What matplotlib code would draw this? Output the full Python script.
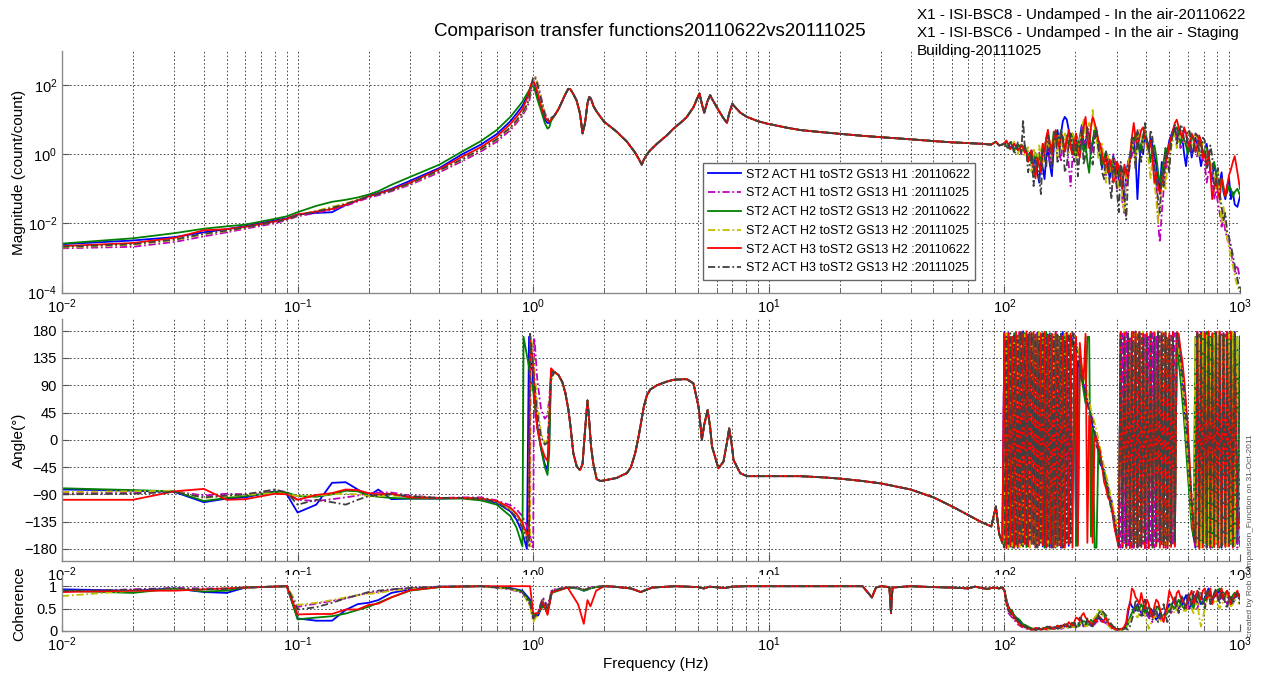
import matplotlib
matplotlib.use("Agg")
import matplotlib.pyplot as plt
from matplotlib.lines import Line2D
from matplotlib.ticker import LogFormatterMathtext, FixedLocator, NullLocator, LogLocator

plt.rcParams.update({
    "font.family": ["Liberation Sans", "DejaVu Sans"],
    "mathtext.fontset": "custom",
    "mathtext.rm": "Liberation Sans",
    "mathtext.it": "Liberation Sans:italic",
    "mathtext.bf": "Liberation Sans:bold",
    "mathtext.default": "regular",
})

# ---------------------------------------------------------------- labels
title = "Comparison transfer functions20110622vs20111025"
info_lines = ["X1 - ISI-BSC8 - Undamped - In the air-20110622",
              "X1 - ISI-BSC6 - Undamped - In the air - Staging",
              "Building-20111025"]
series_labels = ["ST2 ACT H1 toST2 GS13 H1 :20110622",
                 "ST2 ACT H1 toST2 GS13 H1 :20111025",
                 "ST2 ACT H2 toST2 GS13 H2 :20110622",
                 "ST2 ACT H2 toST2 GS13 H2 :20111025",
                 "ST2 ACT H3 toST2 GS13 H2 :20110622",
                 "ST2 ACT H3 toST2 GS13 H2 :20111025"]
credit = "created by Rob Comparison_Function on 31-Oct-2011"

# ---------------------------------------------------------------- frequency grids (Hz)
f_low = [0.01, 0.02, 0.03, 0.04, 0.05, 0.06, 0.08, 0.09, 0.10, 0.12, 0.14, 0.16, 0.18,
         0.20, 0.22, 0.25, 0.30, 0.40, 0.50, 0.60, 0.70, 0.80, 0.85, 0.90, 0.91, 0.94,
         0.96, 0.97, 0.98, 0.99, 1.00, 1.01, 1.02, 1.04, 1.08, 1.12, 1.15, 1.17, 1.19]
f_mid = [1.23, 1.28, 1.33, 1.37, 1.41, 1.44, 1.48, 1.53, 1.58, 1.62,
         1.66, 1.70, 1.73, 1.76, 1.80, 1.86, 1.93, 2.00, 2.13, 2.26,
         2.40, 2.50, 2.60, 2.71, 2.80, 2.89, 2.95, 3.04, 3.14, 3.35,
         3.69, 3.94, 4.35, 4.49, 4.79, 5.03, 5.08, 5.20, 5.32, 5.50,
         5.64, 5.74, 6.11, 6.42, 6.64, 6.79, 7.00, 7.08, 7.56, 8.08,
         9.00, 9.81, 12.0, 13.6, 17.0, 20.0, 25.0, 30.0, 40.0, 50.0,
         60.0, 70.0, 80.0, 88.0, 92.0, 95.0, 98.0]
f_high = [100, 102, 104, 106, 108, 110, 112, 114, 116, 118,
          120, 122, 124, 126, 128, 130.5, 133, 135.5, 138, 140.5,
          143, 145.5, 148, 150.5, 153, 156, 159, 162, 165, 168,
          171, 174, 177, 180.5, 184, 187.5, 191, 194.5, 198, 201.5,
          205, 209, 213, 217, 221, 225, 229, 233, 237, 241.5,
          246, 250.5, 255, 260, 265, 270, 275, 280, 285, 290,
          295, 300.5, 306, 311.5, 317, 323, 329, 335, 341, 347.5,
          354, 360.5, 367, 374, 381, 388, 395, 402.5, 410, 417.5,
          425, 433, 441, 449, 457, 465.5, 474, 483, 492, 501,
          510, 519.5, 529, 539, 549, 559, 569, 579.5, 590, 601,
          612, 623.5, 635, 647, 659, 671, 683, 696, 709, 722,
          735, 748.5, 762, 776.5, 791, 805.5, 820, 835.5, 851, 866.5,
          882, 898.5, 915, 932.5, 950, 975, 1000]
f_coh_low = [0.01, 0.02, 0.03, 0.04, 0.05, 0.06, 0.09, 0.10, 0.12, 0.14, 0.16, 0.18, 0.20,
             0.22, 0.25, 0.30, 0.40, 0.60, 0.80, 0.90, 0.97, 1.00, 1.05, 1.10, 1.15, 1.20,
             1.40, 1.55, 1.64, 1.70, 1.75, 1.85, 2.0]
f_coh_mid = [2.2, 2.6, 2.86, 3.2, 4.0, 5.0, 5.3, 5.6, 6.5, 7.0, 8.0, 10, 15, 20, 25, 27.4,
             28.5, 30, 32.5, 33, 33.5, 40, 50, 60, 70, 75, 80, 85, 90, 95, 98]

# ---------------------------------------------------------------- magnitude (count/count)
mag_low_h1_a = [2.5e-3, 3.2e-3, 4.0e-3, 5.5e-3, 6.8e-3, 8.3e-3, 1.22e-2, 1.4e-2, 1.8e-2, 2.0e-2,
                2.1e-2, 3.4e-2, 4.6e-2, 6.2e-2, 7.5e-2, 0.1, 0.17, 0.4, 1.0, 1.9, 3.8, 9.0, 15,
                25, 29, 45, 65, 80, 100, 115, 120, 110, 90, 55, 22, 10, 8, 8, 10]
mag_low_h1_b = [1.9e-3, 2.1e-3, 2.9e-3, 4.2e-3, 5.5e-3, 7.0e-3, 1.0e-2, 1.25e-2, 1.6e-2, 2.0e-2,
                2.5e-2, 3.2e-2, 4.3e-2, 5.5e-2, 6.5e-2, 0.085, 0.13, 0.3, 0.63, 1.2, 2.3, 5.0, 8,
                13, 15, 22, 32, 45, 65, 90, 120, 160, 170, 120, 45, 16, 11, 10, 11]
mag_low_h2_a = [2.6e-3, 3.7e-3, 5.2e-3, 7.0e-3, 8.2e-3, 9.2e-3, 1.35e-2, 1.6e-2, 2.1e-2, 3.2e-2,
                4.2e-2, 4.8e-2, 5.6e-2, 6.8e-2, 8.5e-2, 0.13, 0.22, 0.5, 1.2, 2.4, 5.0, 12, 20,
                33, 38, 55, 70, 80, 90, 95, 90, 80, 65, 40, 18, 8, 5.5, 6, 9]
mag_low_h2_b = [2.0e-3, 2.4e-3, 3.3e-3, 4.8e-3, 6.0e-3, 7.5e-3, 1.1e-2, 1.3e-2, 1.7e-2, 2.3e-2,
                3.0e-2, 3.8e-2, 4.8e-2, 6.0e-2, 7.0e-2, 0.09, 0.14, 0.33, 0.7, 1.35, 2.6, 5.8, 9,
                15, 17, 25, 38, 55, 80, 110, 140, 175, 180, 120, 40, 15, 10.5, 10, 11]
mag_low_h3_a = [2.2e-3, 2.7e-3, 3.8e-3, 6.3e-3, 6.8e-3, 7.9e-3, 1.14e-2, 1.35e-2, 1.8e-2, 2.2e-2,
                2.6e-2, 3.5e-2, 4.6e-2, 6.0e-2, 7.2e-2, 0.095, 0.15, 0.37, 0.85, 1.6, 3.2, 7.5, 12,
                20, 24, 40, 60, 80, 105, 120, 125, 118, 100, 65, 25, 12, 9.5, 8.7, 10]
mag_low_h3_b = [2.1e-3, 2.5e-3, 3.4e-3, 5.0e-3, 6.2e-3, 7.6e-3, 1.1e-2, 1.3e-2, 1.7e-2, 2.2e-2,
                2.8e-2, 3.6e-2, 4.7e-2, 6.0e-2, 7.0e-2, 0.09, 0.145, 0.34, 0.72, 1.4, 2.7, 6.0, 9.5,
                16, 18, 27, 40, 60, 90, 130, 165, 175, 160, 110, 38, 14, 10, 9.8, 11]
mag_mid = [13, 20, 35, 55, 78, 75, 55, 35, 15, 4,
           8, 30, 45, 40, 25, 17, 12, 8.7, 6.2, 4.5,
           3.0, 2.3, 1.6, 1.1, 0.75, 0.5, 0.7, 1.0, 1.3, 2.0,
           3.5, 5.5, 9.7, 12, 23, 50, 57, 28, 16, 35,
           51, 40, 19, 11, 8.1, 15, 29, 26, 16, 12,
           9, 7.7, 5.8, 5.0, 4.3, 3.9, 3.4, 3.1, 2.7, 2.4,
           2.2, 2.1, 2.0, 1.9, 2.3, 1.8, 1.9]
mag_high_h1_a = [2.0, 2.3, 1.9, 1.6, 1.7, 2.0, 1.8, 1.4, 1.5, 1.9,
                 1.6, 1.2, 1.3, 0.8, 1.1, 0.6, 0.5, 0.8, 0.3, 0.15,
                 0.7, 0.4, 0.19, 0.8, 1.5, 0.5, 0.23, 1.5, 3.0, 5.0,
                 2.0, 4.0, 9.0, 12, 10, 5.0, 3.0, 1.0, 1.5, 2.5,
                 1.0, 3.0, 7.0, 1.5, 2.5, 4.5, 3.0, 1.2, 2.0, 5.0,
                 3.5, 1.5, 1.0, 0.4, 0.6, 1.2, 0.4, 0.2, 0.5, 0.9,
                 0.3, 0.6, 0.15, 0.4, 0.1, 0.05, 0.3, 0.6, 0.9, 2.0,
                 3.0, 0.8, 0.05, 0.6, 2.0, 1.0, 4.0, 2.5, 1.5, 3.0,
                 1.8, 0.9, 0.5, 0.2, 0.1, 0.6, 0.3, 0.5, 1.2, 2.5,
                 3.5, 5.0, 6.0, 2.5, 4.5, 5.0, 3.0, 1.0, 0.45, 1.5,
                 2.5, 0.8, 1.5, 3.0, 2.0, 1.0, 0.45, 0.9, 1.5, 2.0,
                 0.8, 0.3, 0.19, 0.5, 0.3, 0.1, 0.15, 0.3, 0.08, 0.05,
                 0.12, 0.2, 0.05, 0.08, 0.035, 0.03, 0.06]
mag_high_h1_b = [2.0, 1.5, 1.8, 2.2, 1.6, 1.2, 1.7, 2.0, 1.4, 1.0,
                 1.5, 1.8, 1.2, 0.7, 1.0, 1.4, 0.6, 0.3, 0.8, 1.2,
                 0.5, 0.9, 1.5, 3.0, 2.5, 0.5, 0.8, 2.0, 3.5, 2.0,
                 1.2, 0.6, 3.0, 1.5, 2.5, 0.5, 0.12, 0.8, 1.5, 3.5,
                 2.8, 1.2, 6.0, 2.5, 2.0, 5.0, 4.0, 1.0, 1.5, 3.5,
                 3.0, 1.4, 0.9, 1.5, 0.5, 0.25, 0.8, 0.5, 0.3, 1.0,
                 0.6, 0.1, 0.2, 0.5, 0.04, 0.02, 0.15, 0.35, 0.6, 0.9,
                 1.8, 3.0, 5.0, 2.5, 1.5, 2.5, 4.0, 2.0, 1.0, 0.6,
                 1.5, 0.4, 0.2, 0.01, 0.0028, 0.02, 0.09, 0.3, 0.6, 1.5,
                 2.2, 3.5, 5.5, 3.0, 5.0, 1.5, 2.5, 5.0, 4.0, 2.0,
                 1.2, 3.5, 2.8, 1.2, 0.8, 2.5, 1.5, 0.7, 0.5, 0.15,
                 0.3, 0.35, 0.2, 0.05, 0.09, 0.04, 0.02, 0.008, 0.013, 0.006,
                 0.0036, 0.003, 0.0015, 8e-4, 4e-4, 6e-4, 2.5e-4]
mag_high_h2_a = [2.1, 1.7, 1.9, 2.2, 1.8, 1.3, 1.6, 1.9, 1.6, 1.2,
                 1.4, 1.7, 1.3, 0.9, 1.0, 0.5, 0.7, 1.1, 0.4, 0.9,
                 0.6, 2.0, 1.2, 2.5, 4.0, 2.0, 1.5, 4.5, 3.0, 1.8,
                 3.0, 5.0, 2.0, 1.2, 3.5, 1.8, 2.5, 4.0, 1.2, 0.8,
                 1.5, 3.0, 4.5, 1.2, 2.0, 0.6, 0.29, 1.5, 2.5, 5.0,
                 4.0, 2.5, 1.5, 0.5, 0.8, 1.2, 0.5, 0.3, 0.6, 0.35,
                 0.25, 0.5, 0.3, 0.12, 0.15, 0.4, 0.2, 0.5, 0.8, 1.5,
                 2.5, 4.0, 3.0, 1.2, 2.0, 3.5, 5.0, 2.5, 1.5, 0.6,
                 1.2, 1.8, 0.9, 0.3, 0.15, 0.3, 0.6, 1.5, 1.0, 1.8,
                 2.5, 4.0, 5.0, 6.0, 4.0, 2.0, 3.0, 2.5, 1.8, 1.0,
                 2.0, 3.5, 2.5, 1.2, 1.5, 2.5, 2.0, 1.0, 1.2, 1.5,
                 0.9, 0.5, 0.4, 0.6, 0.3, 0.15, 0.12, 0.2, 0.09, 0.06,
                 0.078, 0.12, 0.1, 0.06, 0.08, 0.1, 0.065]
mag_high_h2_b = [2.0, 2.4, 1.7, 1.3, 1.9, 2.3, 1.5, 1.0, 1.7, 2.1,
                 1.4, 0.9, 1.1, 1.6, 0.8, 0.3, 1.5, 0.9, 0.6, 1.8,
                 0.9, 0.4, 0.88, 3.0, 2.2, 1.2, 0.7, 3.0, 1.5, 0.8,
                 3.5, 2.0, 1.2, 4.0, 2.0, 1.0, 1.5, 4.0, 3.0, 0.8,
                 1.0, 2.5, 5.0, 10, 3.0, 1.5, 8.0, 5.0, 19, 6.0,
                 3.0, 0.7, 1.2, 2.0, 0.4, 0.15, 0.9, 0.6, 0.3, 0.8,
                 0.5, 0.2, 0.1, 0.3, 0.05, 0.02, 0.25, 0.5, 1.0, 3.0,
                 1.2, 0.6, 2.5, 5.0, 3.0, 1.5, 4.5, 1.5, 0.6, 0.2,
                 0.8, 0.15, 0.05, 0.01, 0.03, 0.08, 0.2, 0.1, 0.5, 0.8,
                 1.5, 2.5, 4.0, 1.5, 2.5, 4.0, 5.0, 2.0, 3.0, 5.0,
                 3.5, 1.5, 2.0, 4.0, 3.0, 0.9, 1.2, 2.5, 2.0, 0.6,
                 1.0, 0.3, 0.5, 0.2, 0.1, 0.3, 0.05, 0.01, 0.03, 0.01,
                 0.0036, 0.002, 9.5e-4, 6e-4, 3e-4, 1.5e-4, 1.05e-4]
mag_high_h3_a = [2.1, 2.5, 1.8, 1.4, 1.7, 2.0, 1.6, 1.3, 1.5, 1.8,
                 1.5, 1.1, 1.2, 0.6, 0.9, 1.3, 0.4, 0.2, 0.8, 0.5,
                 0.3, 2.0, 1.0, 3.0, 5.1, 2.0, 1.0, 3.0, 5.0, 2.5,
                 1.5, 4.0, 3.0, 1.2, 2.5, 5.0, 1.5, 1.0, 2.0, 4.0,
                 1.2, 0.8, 2.5, 6.0, 12, 3.0, 1.5, 6.0, 12, 8.0,
                 5.0, 2.5, 2.0, 1.0, 0.5, 0.9, 0.3, 0.7, 0.4, 0.15,
                 0.2, 0.6, 0.45, 0.2, 0.1, 0.5, 0.3, 0.2, 0.7, 3.0,
                 8.0, 3.0, 1.5, 3.0, 5.0, 6.0, 3.0, 2.0, 1.3, 2.5,
                 0.8, 0.15, 0.3, 0.12, 0.07, 0.15, 0.25, 0.6, 1.0, 2.0,
                 3.0, 5.0, 8.0, 10, 6.0, 4.0, 3.0, 6.0, 4.0, 2.0,
                 1.5, 4.0, 3.0, 1.2, 1.8, 3.5, 2.5, 0.8, 1.0, 0.4,
                 1.2, 0.3, 0.05, 0.1, 0.2, 0.08, 0.05, 0.2, 0.12, 0.06,
                 0.12, 0.25, 0.36, 0.6, 0.88, 0.3, 0.1]
mag_high_h3_b = [2.2, 1.6, 1.5, 2.4, 2.0, 1.0, 1.3, 2.2, 1.8, 1.1,
                 10, 1.6, 1.2, 0.3, 0.5, 1.2, 0.12, 0.7, 0.45, 0.2,
                 0.07, 1.5, 0.9, 0.4, 3.5, 1.2, 0.35, 2.0, 4.5, 0.6,
                 0.8, 5.0, 3.0, 0.3, 0.45, 2.0, 4.0, 1.5, 0.6, 2.5,
                 0.23, 1.2, 5.0, 0.5, 1.0, 6.5, 3.5, 0.9, 0.5, 2.5,
                 6.0, 1.5, 0.8, 0.3, 0.19, 1.1, 0.6, 0.12, 0.05, 0.8,
                 0.4, 0.08, 0.021, 0.6, 0.3, 0.05, 0.013, 0.2, 0.5, 3.0,
                 1.5, 0.35, 4.5, 1.2, 0.6, 3.0, 8.0, 2.0, 1.2, 5.0,
                 3.0, 0.5, 0.15, 0.05, 0.02, 0.3, 0.12, 1.5, 0.8, 0.3,
                 2.0, 4.0, 7.0, 2.0, 3.5, 6.5, 6.0, 2.5, 1.7, 5.0,
                 4.5, 1.0, 1.3, 4.0, 3.5, 1.2, 0.9, 3.0, 2.5, 0.4,
                 0.6, 1.8, 0.9, 0.1, 0.15, 0.4, 0.08, 0.03, 0.012, 0.02,
                 0.0055, 0.004, 0.0023, 0.0012, 6e-4, 2.5e-4, 1.05e-4]

# ---------------------------------------------------------------- phase (degrees)
ph_low_h1_a = [-82, -84, -86, -103, -97, -95, -85, -90, -120, -107, -71, -70, -82, -93, -82, -98,
               -97, -97, -96, -98, -104, -118, -132, -154, -160, -180, 170, 150, 130, 110, 90, 70,
               55, 25, -15, -40, -50, 0, 112]
ph_low_h1_b = [-88, -87, -85, -92, -89, -90, -85, -86, -99, -101, -98, -95, -92, -88, -87, -87,
               -92, -96, -95, -95, -100, -108, -115, -126, -130, -142, -150, -158, -166, -175, -180,
               168, 150, 100, 50, 35, 40, 70, 105]
ph_low_h2_a = [-80, -83, -85, -101, -96, -93, -86, -87, -93, -94, -90, -84, -85, -92, -94, -96,
               -97, -97, -97, -100, -107, -126, -145, -176, 170, 140, 120, 105, 95, 88, 80, 65,
               50, 20, -15, -45, -58, -20, 113]
ph_low_h2_b = [-86, -85, -84, -96, -93, -91, -88, -89, -93, -92, -90, -89, -90, -93, -93, -92,
               -94, -96, -96, -97, -102, -115, -125, -140, -145, -160, -170, -176, 170, 155, 140,
               120, 100, 60, 10, -5, 0, 60, 95]
ph_low_h3_a = [-99, -99, -85, -81, -99, -98, -89, -90, -99, -91, -88, -82, -83, -88, -90, -89,
               -95, -96, -96, -97, -101, -112, -122, -137, -142, -155, -165, 165, 150, 140, 120,
               90, 60, 20, -10, -28, -35, 30, 118]
ph_low_h3_b = [-90, -89, -86, -95, -92, -90, -82, -87, -107, -99, -103, -107, -99, -93, -91, -90,
               -93, -96, -96, -97, -103, -117, -128, -145, -150, -165, -175, 175, 160, 140, 115,
               95, 80, 45, 5, -8, -5, 40, 100]
ph_mid = [112, 107, 95, 77, 50, 22, -22, -44, -50, -40,
          16, 65, 30, -11, -40, -65, -68, -67, -65, -63,
          -58, -55, -45, -22, 5, 35, 55, 74, 83, 90,
          96, 99, 100, 100, 93, 55, 40, 0, 25, 49,
          20, -11, -47, -36, -5, 19, -15, -33, -55, -60,
          -60, -60, -60, -60, -62, -64, -68, -72, -82, -95,
          -110, -124, -136, -143, -110, -155, -170]
ph_high_h1_a = [178, -174, 176, -176, 170, -178, 172, -178, 175, -172, 179, -168, 174, -174, 176, -170,
                174, -177, 177, -172, 170, -176, 175, -178, 174, -175, 170, -172, 178, -175, 170, -178,
                178, -168, 170, -175,
                172, 165, 155, -170, 130, 120, 105, 90, 70, 60, 55, 40, 20, 10, 5, -20, -40, -45,
                -50, -70, -90, -95, -100, -130, -150, -155, -160,
                178, -178, 172, -175, 175, -172, 170, -178, 178, -176, 172, -170, 176, -178, 170, -176,
                178, -175, 175, -172, 178, -174, 176, -170, 172, -178, 170, -172, 178, -176, 175,
                160, 130, 90, 50, 15, -20, -70, -120, -160, -178,
                172, -176, 178, -170, 176, -174, 178, -178, 172, -175, 178, -172, 170, -178, 176, -175,
                178, -170, 172, -176, 178, -172, 170]
ph_high_h1_b = [176, -170, 178, -172, 168, -176, 172, -178, 178, -174, 176, -170, 170, -176, 175, -165,
                172, -168, 178, -170, 174, -174, 170, -176, 172, -178, 176, -172, 176, -168, 172, -170,
                172, -176, 170, 172,
                168, 172, 175, 160, 145, 125, 110, 95, 85, 65, 50, 42, 35, 15, 0, -15, -30, -42,
                -55, -65, -75, -90, -105, -118, -130, -150, -165,
                -178, 175, -172, 178, -174, 170, -178, 178, -170, 174, -178, 175, -172, 176, -178, 170,
                -174, 176, -178, 172, -168, 178, -174, 176, -178, 170, -168, 172, -174, 176, 174,
                150, 120, 85, 45, 5, -35, -80, -130, -160, -176,
                178, -170, 174, -172, 178, -170, 176, -178, 170, -176, 174, -172, 178, -174, 170, -168,
                176, -175, 178, -172, 176, -178, 172]
ph_high_h2_a = [-175, 172, -178, 170, -178, 176, -172, 172, -170, 178, -176, 176, -177, 170, -168, 168,
                -172, 174, -175, 175, -168, 172, -178, 178, -176, 176, -170, 170, -178, 172, -174, 174,
                -170, 174, 177, 170,
                160, 155, 150, -175, -170, 140, 100, 80, 60, 170, 170, -160, 20, -178, -178, -10, -30,
                -45, -55, -70, -85, -100, -115, -125, -140, -155, -170,
                175, -176, 172, -178, 170, -175, 176, -175, 178, -172, 178, -170, 176, -174, 170, -178,
                170, -178, 176, -176, 174, -172, 178, -170, 178, -175, 172, -175, 168, -170, 165,
                130, 100, 65, 30, -15, -60, -100, -145, -160, 170,
                -176, 174, -172, 174, -170, 178, -172, 170, -178, 176, -172, 170, -178, 174, -170, 174,
                -168, 176, -172, 176, -175, 170, -175]
ph_high_h2_b = [-170, 176, -178, 172, -175, 166, -176, 170, -178, 172, -172, 176, -168, 172, -178, 176,
                -172, 168, -175, 178, -172, 172, -175, 165, -170, 170, -178, 176, -176, 172, -170, 168,
                -178, 174, 175, 172,
                175, 178, 170, 168, 150, 135, 120, 108, 95, 80, 65, 50, 40, 28, 15, 0, -15, -30,
                -45, -58, -70, -85, -100, -112, -125, -145, -160,
                172, -176, 178, -178, 168, -172, 174, -174, 176, -172, 170, -170, 178, -176, 174, -172,
                168, -168, 178, -172, 170, -172, 178, -176, 174, -174, 170, -175, 172, -176, 175,
                150, 125, 90, 55, 10, -30, -80, -125, -150, 168,
                -174, 170, -178, 178, -170, 172, -176, 168, -178, 174, -170, 178, -174, 172, -176, 168,
                -178, 174, -170, 178, -174, 172, -165]
ph_high_h3_a = [176, -179, 175, -175, 170, -178, 178, -176, 178, -170, 174, -172, 179, -176, 177, -172,
                178, -178, 171, -174, 176, -174, 178, -177, 172, -172, 175, -178, 178, -175, 150, -176,
                170, -178, 176, -172,
                175, -178, 150, 170, -175, 160, 120, 100, 175, -170, 40, 20, -170, 10, 0, -10, -20,
                -45, -70, -80, -95, -100, -110, -130, -150, -165, -178,
                178, -176, 176, -178, 176, -179, 178, -178, 179, -177, 178, -177, 175, -179, 176, -179,
                178, -175, 177, -175, 179, -178, 176, -178, 177, -179, 176, -177, 178, -176, 177,
                175, 150, 130, 100, 60, 20, -40, -100, -150, -170,
                178, -179, 176, -178, 175, -178, 179, -176, 176, -177, 178, -178, 179, -175, 176, -177,
                178, -176, 179, -178, 176, -150, -120]
ph_high_h3_b = [-178, 170, -172, 176, -168, 172, -175, 165, -170, 178, -176, 168, -172, 175, -165, 178,
                -172, 170, -178, 165, -170, 176, -175, 168, -165, 172, -178, 170, -170, 176, -168, 175,
                -178, 166, -170, 172,
                -170, 178, 165, 150, 140, 120, 95, 88, 80, 60, 45, 38, 30, 10, -10, -18, -25, -45,
                -60, -70, -80, -100, -120, -128, -135, -160, -175,
                172, -168, 170, -175, 175, -170, 165, -172, 160, -178, 176, -178, 168, -170, 172, -165,
                174, -176, 170, -170, 178, -168, 172, -175, 170, -165, 165, -172, 172, -170, 175,
                160, 140, 110, 80, 40, 0, -50, -100, -140, -170,
                175, -168, 172, -170, 168, -178, 172, -172, 170, -165, 176, -165, 174, -175, 176, -170,
                168, -172, 165, -175, 176, -170, 172]

# ---------------------------------------------------------------- coherence
coh_low_h1_a = [0.93, 0.9, 0.95, 0.87, 0.85, 0.97, 1.0, 0.28, 0.23, 0.23, 0.47, 0.6, 0.63, 0.69, 0.85,
                0.93, 0.99, 1.0, 0.96, 0.9, 0.7, 0.3, 0.35, 0.6, 0.4, 0.88, 0.97, 0.95, 0.9, 0.93,
                0.96, 0.98, 1.0]
coh_low_h1_b = [0.88, 0.93, 0.96, 0.95, 0.95, 0.97, 1.0, 0.54, 0.61, 0.67, 0.73, 0.8, 0.85, 0.87, 0.92,
                0.96, 0.99, 1.0, 0.93, 0.85, 0.6, 0.25, 0.45, 0.75, 0.55, 0.92, 0.98, 0.97, 0.93, 0.95,
                0.97, 0.99, 1.0]
coh_low_h2_a = [0.9, 0.85, 0.95, 0.88, 0.9, 0.97, 1.0, 0.26, 0.3, 0.33, 0.39, 0.47, 0.54, 0.63, 0.75,
                0.9, 0.98, 1.0, 0.95, 0.88, 0.65, 0.35, 0.4, 0.55, 0.45, 0.85, 0.97, 0.95, 0.9, 0.92,
                0.95, 0.98, 1.0]
coh_low_h2_b = [0.78, 0.9, 0.93, 0.93, 0.95, 0.97, 1.0, 0.58, 0.63, 0.69, 0.75, 0.8, 0.83, 0.85, 0.9,
                0.94, 0.99, 1.0, 0.94, 0.86, 0.55, 0.2, 0.4, 0.7, 0.5, 0.9, 0.98, 0.96, 0.92, 0.94,
                0.96, 0.99, 1.0]
coh_low_h3_a = [0.87, 0.9, 0.9, 0.93, 0.95, 0.97, 1.0, 0.37, 0.38, 0.38, 0.48, 0.48, 0.58, 0.61, 0.75,
                0.91, 0.98, 1.0, 1.0, 1.0, 1.0, 0.39, 0.4, 0.65, 0.36, 0.87, 0.97, 0.6, 0.16, 0.69,
                0.55, 0.9, 1.0]
coh_low_h3_b = [0.9, 0.92, 0.95, 0.93, 0.94, 0.97, 1.0, 0.48, 0.53, 0.63, 0.73, 0.8, 0.87, 0.9, 0.93,
                0.96, 0.99, 1.0, 0.95, 0.87, 0.6, 0.28, 0.42, 0.72, 0.5, 0.9, 0.98, 0.96, 0.92, 0.94,
                0.96, 0.99, 1.0]
coh_mid = [0.99, 0.95, 0.87, 0.97, 1.0, 0.98, 0.95, 0.99, 0.96, 0.99, 1.0, 1.0, 1.0, 1.0, 1.0, 0.75,
           0.97, 1.0, 0.98, 0.4, 0.97, 1.0, 0.98, 0.97, 0.95, 0.99, 0.96, 0.94, 0.97, 0.95, 0.97]
coh_high_h1_a = [0.9, 0.7, 0.55, 0.45, 0.4, 0.35, 0.3, 0.25, 0.2, 0.15,
                 0.12, 0.1, 0.1, 0.08, 0.06, 0.05, 0.04, 0.03, 0.05, 0.06,
                 0.04, 0.05, 0.06, 0.04, 0.05, 0.07, 0.08, 0.05, 0.06, 0.09,
                 0.1, 0.12, 0.08, 0.1, 0.12, 0.08, 0.1, 0.13, 0.15, 0.1,
                 0.12, 0.18, 0.2, 0.12, 0.15, 0.22, 0.2, 0.12, 0.15, 0.2,
                 0.25, 0.28, 0.3, 0.25, 0.2, 0.18, 0.15, 0.1, 0.08, 0.06,
                 0.05, 0.04, 0.04, 0.03, 0.05, 0.08, 0.15, 0.4, 0.65, 0.55,
                 0.5, 0.45, 0.6, 0.5, 0.4, 0.35, 0.5, 0.4, 0.3, 0.5,
                 0.45, 0.35, 0.25, 0.3, 0.4, 0.35, 0.3, 0.45, 0.5, 0.6,
                 0.55, 0.65, 0.7, 0.6, 0.5, 0.55, 0.6, 0.7, 0.8, 0.65,
                 0.5, 0.6, 0.7, 0.8, 0.85, 0.7, 0.6, 0.65, 0.75, 0.85,
                 0.95, 0.85, 0.7, 0.75, 0.8, 0.85, 0.9, 0.8, 0.7, 0.75,
                 0.8, 0.7, 0.6, 0.7, 0.75, 0.85, 0.8]
coh_high_h1_b = [0.9, 0.6, 0.4, 0.35, 0.3, 0.25, 0.2, 0.15, 0.12, 0.1,
                 0.08, 0.06, 0.05, 0.04, 0.03, 0.02, 0.02, 0.03, 0.04, 0.02,
                 0.03, 0.04, 0.05, 0.03, 0.04, 0.05, 0.06, 0.04, 0.05, 0.07,
                 0.08, 0.05, 0.06, 0.09, 0.1, 0.06, 0.08, 0.1, 0.12, 0.08,
                 0.1, 0.12, 0.15, 0.1, 0.12, 0.15, 0.18, 0.1, 0.12, 0.15,
                 0.2, 0.22, 0.25, 0.18, 0.2, 0.18, 0.15, 0.1, 0.06, 0.04,
                 0.03, 0.02, 0.02, 0.03, 0.04, 0.06, 0.1, 0.2, 0.3, 0.4,
                 0.45, 0.55, 0.5, 0.45, 0.4, 0.5, 0.55, 0.4, 0.3, 0.25,
                 0.2, 0.3, 0.4, 0.3, 0.25, 0.3, 0.35, 0.45, 0.5, 0.45,
                 0.4, 0.5, 0.6, 0.5, 0.45, 0.6, 0.7, 0.6, 0.55, 0.5,
                 0.6, 0.7, 0.8, 0.6, 0.5, 0.65, 0.75, 0.7, 0.6, 0.7,
                 0.8, 0.7, 0.65, 0.8, 0.9, 0.8, 0.7, 0.75, 0.8, 0.7,
                 0.6, 0.7, 0.75, 0.8, 0.85, 0.75, 0.7]
coh_high_h2_a = [0.92, 0.7, 0.5, 0.48, 0.45, 0.35, 0.3, 0.28, 0.25, 0.2,
                 0.15, 0.14, 0.12, 0.1, 0.08, 0.06, 0.05, 0.04, 0.06, 0.05,
                 0.04, 0.06, 0.07, 0.04, 0.05, 0.08, 0.06, 0.05, 0.08, 0.12,
                 0.1, 0.08, 0.12, 0.15, 0.1, 0.08, 0.12, 0.18, 0.15, 0.12,
                 0.1, 0.15, 0.18, 0.22, 0.2, 0.12, 0.15, 0.25, 0.2, 0.25,
                 0.3, 0.38, 0.45, 0.4, 0.35, 0.25, 0.2, 0.15, 0.1, 0.08,
                 0.06, 0.04, 0.03, 0.02, 0.04, 0.06, 0.08, 0.15, 0.3, 0.4,
                 0.5, 0.55, 0.45, 0.5, 0.6, 0.5, 0.4, 0.45, 0.55, 0.45,
                 0.35, 0.4, 0.5, 0.55, 0.45, 0.35, 0.3, 0.35, 0.4, 0.5,
                 0.6, 0.55, 0.5, 0.6, 0.7, 0.6, 0.55, 0.5, 0.6, 0.7,
                 0.75, 0.6, 0.5, 0.7, 0.8, 0.7, 0.65, 0.6, 0.7, 0.85,
                 0.9, 0.8, 0.75, 0.8, 0.85, 0.9, 0.95, 0.85, 0.8, 0.85,
                 0.9, 0.8, 0.7, 0.8, 0.85, 0.8, 0.75]
coh_high_h2_b = [0.92, 0.65, 0.45, 0.4, 0.35, 0.3, 0.25, 0.2, 0.15, 0.12,
                 0.1, 0.08, 0.06, 0.05, 0.04, 0.03, 0.03, 0.02, 0.02, 0.03,
                 0.03, 0.04, 0.05, 0.04, 0.03, 0.04, 0.05, 0.06, 0.04, 0.05,
                 0.06, 0.07, 0.08, 0.07, 0.06, 0.08, 0.1, 0.09, 0.08, 0.1,
                 0.12, 0.16, 0.2, 0.15, 0.1, 0.12, 0.15, 0.2, 0.25, 0.3,
                 0.35, 0.45, 0.5, 0.4, 0.3, 0.2, 0.15, 0.08, 0.05, 0.04,
                 0.03, 0.02, 0.02, 0.02, 0.03, 0.04, 0.06, 0.15, 0.25, 0.3,
                 0.4, 0.35, 0.3, 0.4, 0.5, 0.4, 0.35, 0.2, 0.05, 0.15,
                 0.25, 0.3, 0.35, 0.25, 0.2, 0.25, 0.3, 0.4, 0.45, 0.5,
                 0.55, 0.45, 0.4, 0.5, 0.6, 0.55, 0.5, 0.45, 0.45, 0.55,
                 0.6, 0.5, 0.4, 0.55, 0.7, 0.3, 0.1, 0.3, 0.5, 0.65,
                 0.8, 0.7, 0.6, 0.65, 0.7, 0.6, 0.5, 0.6, 0.65, 0.75,
                 0.8, 0.65, 0.55, 0.6, 0.7, 0.65, 0.6]
coh_high_h3_a = [0.9, 0.65, 0.5, 0.45, 0.4, 0.3, 0.25, 0.2, 0.15, 0.1,
                 0.12, 0.1, 0.08, 0.06, 0.05, 0.03, 0.04, 0.07, 0.06, 0.04,
                 0.03, 0.06, 0.05, 0.04, 0.07, 0.1, 0.05, 0.06, 0.08, 0.12,
                 0.1, 0.08, 0.12, 0.15, 0.1, 0.2, 0.15, 0.12, 0.2, 0.3,
                 0.28, 0.22, 0.35, 0.4, 0.3, 0.25, 0.2, 0.18, 0.15, 0.25,
                 0.22, 0.35, 0.3, 0.2, 0.25, 0.3, 0.2, 0.12, 0.1, 0.06,
                 0.05, 0.03, 0.03, 0.05, 0.05, 0.1, 0.2, 0.5, 0.6, 0.95,
                 0.9, 0.75, 0.7, 0.6, 0.85, 0.65, 0.5, 0.7, 0.6, 0.4,
                 0.3, 0.55, 0.7, 0.65, 0.5, 0.3, 0.2, 0.4, 0.6, 0.9,
                 0.8, 0.7, 0.6, 0.85, 0.9, 0.75, 0.7, 0.6, 0.5, 0.7,
                 0.8, 0.9, 0.6, 0.75, 0.9, 0.8, 0.7, 0.9, 0.95, 0.7,
                 0.8, 0.95, 0.6, 0.8, 0.9, 0.7, 0.8, 0.95, 0.7, 0.8,
                 0.9, 0.75, 0.6, 0.7, 0.8, 0.9, 0.7]
coh_high_h3_b = [0.95, 0.6, 0.45, 0.4, 0.35, 0.25, 0.3, 0.22, 0.2, 0.12,
                 0.15, 0.08, 0.1, 0.05, 0.08, 0.03, 0.05, 0.02, 0.03, 0.06,
                 0.08, 0.03, 0.05, 0.09, 0.1, 0.06, 0.04, 0.08, 0.12, 0.05,
                 0.06, 0.12, 0.1, 0.18, 0.15, 0.1, 0.08, 0.22, 0.18, 0.08,
                 0.12, 0.3, 0.25, 0.1, 0.15, 0.28, 0.2, 0.12, 0.1, 0.2,
                 0.3, 0.35, 0.25, 0.45, 0.4, 0.35, 0.3, 0.2, 0.15, 0.1,
                 0.08, 0.05, 0.04, 0.02, 0.03, 0.06, 0.05, 0.03, 0.1, 0.25,
                 0.4, 0.7, 0.6, 0.4, 0.3, 0.5, 0.7, 0.45, 0.4, 0.3,
                 0.25, 0.45, 0.55, 0.2, 0.3, 0.45, 0.6, 0.35, 0.2, 0.4,
                 0.5, 0.65, 0.75, 0.55, 0.4, 0.65, 0.8, 0.6, 0.5, 0.85,
                 0.7, 0.55, 0.9, 0.75, 0.6, 0.95, 0.85, 0.65, 0.5, 0.8,
                 0.9, 0.6, 0.7, 0.85, 0.95, 0.75, 0.6, 0.9, 0.85, 0.6,
                 0.5, 0.75, 0.8, 0.6, 0.7, 0.85, 0.6]

# ---------------------------------------------------------------- series styles
colors = ["#0000ff", "#c000c0", "#008000", "#bfbf00", "#ff0000", "#404040"]
dashdot = (0, (4, 1.5, 1, 1.5))
styles = ["-", dashdot, "-", dashdot, "-", dashdot]

mag_low = [mag_low_h1_a, mag_low_h1_b, mag_low_h2_a, mag_low_h2_b, mag_low_h3_a, mag_low_h3_b]
mag_high = [mag_high_h1_a, mag_high_h1_b, mag_high_h2_a, mag_high_h2_b, mag_high_h3_a, mag_high_h3_b]
ph_low = [ph_low_h1_a, ph_low_h1_b, ph_low_h2_a, ph_low_h2_b, ph_low_h3_a, ph_low_h3_b]
ph_high = [ph_high_h1_a, ph_high_h1_b, ph_high_h2_a, ph_high_h2_b, ph_high_h3_a, ph_high_h3_b]
coh_low = [coh_low_h1_a, coh_low_h1_b, coh_low_h2_a, coh_low_h2_b, coh_low_h3_a, coh_low_h3_b]
coh_high = [coh_high_h1_a, coh_high_h1_b, coh_high_h2_a, coh_high_h2_b, coh_high_h3_a, coh_high_h3_b]

f_tf = f_low + f_mid + f_high
f_coh = f_coh_low + f_coh_mid + f_high

# ---------------------------------------------------------------- figure
W, H = 1261, 677
fig = plt.figure(figsize=(W / 100, H / 100), dpi=100)
fig.patch.set_facecolor("white")


def box(left, top, right, bottom):
    return [left / W, 1 - bottom / H, (right - left) / W, (bottom - top) / H]


ax_mag = fig.add_axes(box(62, 50.5, 1240, 292.5))
ax_ph = fig.add_axes(box(62, 318.6, 1240, 561))
ax_coh = fig.add_axes(box(62, 575, 1240, 631))

grid_kw = dict(color="#303030", linewidth=0.6, linestyle=(0, (2, 2.5)))


def style_axes(ax):
    ax.set_xscale("log")
    ax.set_xlim(1e-2, 1e3)
    ax.set_xticks([1e-2, 1e-1, 1e0, 1e1, 1e2, 1e3])
    ax.xaxis.set_major_formatter(LogFormatterMathtext())
    ax.xaxis.set_minor_locator(LogLocator(base=10, subs=range(2, 10), numticks=20))
    for s in ("top", "right"):
        ax.spines[s].set_visible(False)
    for s in ("left", "bottom"):
        ax.spines[s].set_color("#8a8a8a")
        ax.spines[s].set_linewidth(1.0)
    ax.grid(True, which="major", **grid_kw)
    ax.grid(True, which="minor", axis="x", **grid_kw)
    ax.tick_params(which="both", direction="in", colors="#555555", labelcolor="black",
                   labelsize=10.5, top=False, right=False)
    ax.tick_params(which="major", length=5)
    ax.tick_params(which="minor", length=3)
    ax.set_axisbelow(True)


for ax in (ax_mag, ax_ph, ax_coh):
    style_axes(ax)

for k in range(6):
    mag = mag_low[k] + mag_mid + mag_high[k]
    ph = ph_low[k] + ph_mid + ph_high[k]
    coh = coh_low[k] + coh_mid + coh_high[k]
    kw = dict(color=colors[k], linestyle=styles[k], linewidth=1.3)
    ax_mag.plot(f_tf[:len(mag)], mag, **kw)
    ax_ph.plot(f_tf[:len(ph)], ph, **kw)
    ax_coh.plot(f_coh[:len(coh)], coh, **kw)

ax_mag.set_yscale("log")
ax_mag.set_ylim(1e-4, 1e3)
ax_mag.yaxis.set_major_locator(FixedLocator([1e-4, 1e-2, 1e0, 1e2]))
ax_mag.yaxis.set_major_formatter(LogFormatterMathtext())
ax_mag.yaxis.set_minor_locator(NullLocator())

ax_ph.set_ylim(-200, 200)
ax_ph.set_yticks(range(-180, 181, 45))

ax_coh.set_ylim(0, 1.25)
ax_coh.set_yticks([0, 0.5, 1])
ax_coh.set_yticklabels(["0", "0.5", "1"])

handles = [Line2D([], [], color=colors[k], linestyle=styles[k], linewidth=1.3) for k in range(6)]
leg = ax_mag.legend(handles, series_labels, loc="upper left", bbox_to_anchor=(0.544, 0.535),
                    borderaxespad=0, fontsize=9, fancybox=False, framealpha=1,
                    edgecolor="#666666", handlelength=2.6, handletextpad=0.4,
                    labelspacing=0.54, borderpad=0.45)
leg.get_frame().set_linewidth(1.0)

# ---------------------------------------------------------------- text
fig.text(650 / W, 1 - 32 / H, title, ha="center", va="center", fontsize=13.5)
for i, line in enumerate(info_lines):
    fig.text(917 / W, 1 - (15 + 18 * i) / H, line, ha="left", va="center", fontsize=11)

fig.text(19 / W, 1 - 172 / H, "Magnitude (count/count)", rotation=90, ha="center", va="center", fontsize=11)
fig.text(19 / W, 1 - 440 / H, "Angle(°)", rotation=90, ha="center", va="center", fontsize=11)
fig.text(19 / W, 1 - 604 / H, "Coherence", rotation=90, ha="center", va="center", fontsize=11)
fig.text(656 / W, 1 - 664 / H, "Frequency (Hz)", ha="center", va="center", fontsize=11)
fig.text(1250 / W, 1 - 637 / H, credit, rotation=90, ha="center", va="bottom", fontsize=6, color="#555555")

fig.savefig("out.png", dpi=100, facecolor="white")
